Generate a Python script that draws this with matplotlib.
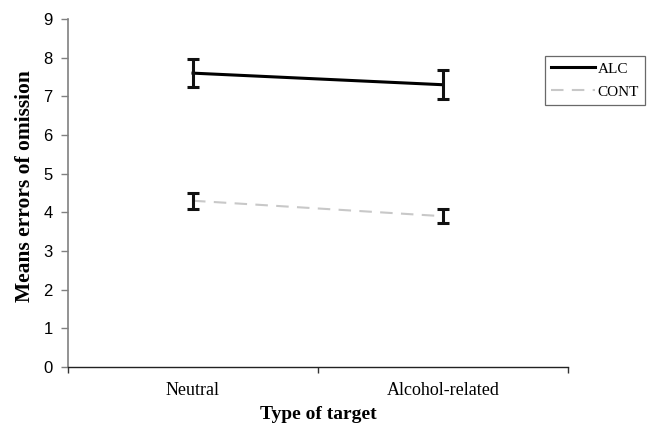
import matplotlib
matplotlib.use("Agg")
import matplotlib.pyplot as plt
from matplotlib.ticker import FixedLocator, NullFormatter

categories = ["Neutral", "Alcohol-related"]
alc_means = [7.6, 7.3]
alc_err = [0.37, 0.37]
cont_means = [4.3, 3.9]
cont_err = [0.21, 0.18]
y_ticks = [0, 1, 2, 3, 4, 5, 6, 7, 8, 9]

fig = plt.figure(figsize=(6.54, 4.29), dpi=100)
ax = fig.add_axes([0.104, 0.1445, 0.7645, 0.8112])

x = list(range(len(categories)))

ax.plot(x, alc_means, color="black", lw=2.2, label="ALC", zorder=3)
ax.plot(x, cont_means, color="#c8c8c8", lw=1.5, ls=(0, (6, 4)), label="CONT", zorder=3)
for means, errs in ((alc_means, alc_err), (cont_means, cont_err)):
    ax.errorbar(x, means, yerr=errs, fmt="none", ecolor="#111111",
                elinewidth=2.2, capsize=4, capthick=2.2, zorder=4)

ax.set_xlim(-0.5, len(categories) - 0.5)
ax.set_ylim(0, 9)
ax.set_yticks(y_ticks)
ax.set_xticks(x)
ax.set_xticklabels(categories, fontfamily="Liberation Serif", fontsize=13)
ax.tick_params(axis="x", which="major", length=0, pad=11)
ax.xaxis.set_minor_locator(FixedLocator([-0.5, 0.5, 1.5]))
ax.xaxis.set_minor_formatter(NullFormatter())
ax.tick_params(axis="x", which="minor", length=4, width=1, color="#333333", direction="out")
ax.tick_params(axis="y", length=5, width=1, color="#808080", direction="out", pad=6)
for lbl in ax.get_yticklabels():
    lbl.set_fontfamily("Liberation Sans")
    lbl.set_fontsize(12)

for side in ("top", "right"):
    ax.spines[side].set_visible(False)
ax.spines["left"].set_color("#808080")
ax.spines["left"].set_linewidth(1.2)
ax.spines["bottom"].set_color("#222222")
ax.spines["bottom"].set_linewidth(1.0)

ax.set_ylabel("Means errors of omission", fontfamily="Liberation Serif",
              fontweight="bold", fontsize=15.5)
ax.yaxis.set_label_coords(-0.066, 0.52)
ax.set_xlabel("Type of target", fontfamily="Liberation Serif",
              fontweight="bold", fontsize=14, labelpad=5)

leg = fig.legend(loc="upper left", bbox_to_anchor=(545 / 654, 1 - 56 / 429),
                 prop={"family": "Liberation Serif", "size": 11},
                 frameon=True, fancybox=False, edgecolor="#444444",
                 handlelength=2.9, handletextpad=0.15, borderpad=0.4,
                 labelspacing=0.6, borderaxespad=0)
leg.get_frame().set_linewidth(0.9)

fig.savefig("out.png", dpi=100, facecolor="white")
